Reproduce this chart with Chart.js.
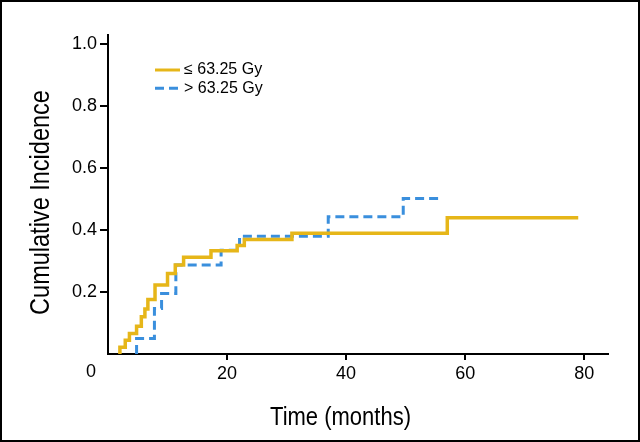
<!DOCTYPE html>
<html>
<head>
<meta charset="utf-8">
<script src="https://cdn.jsdelivr.net/npm/chart.js@4.4.1/dist/chart.umd.min.js"></script>
<style>
  html, body { margin: 0; padding: 0; background: #fff; }
  #wrap { width: 640px; height: 442px; box-sizing: border-box; border: 2px solid #000; position: relative; }
</style>
</head>
<body>
<div id="wrap"><canvas id="kmChart"></canvas></div>
<script>
// cumulative incidence
var lowLabel = "\u2264 63.25 Gy";
var lowMonths = [2.0, 2.0, 2.9, 3.6, 4.8, 5.6, 6.2, 6.7, 7.9, 10.0, 11.3, 12.7, 17.3, 21.7, 22.9, 30.9, 57.0, 79.0];
var lowInc    = [0, 0.022, 0.044, 0.066, 0.09, 0.12, 0.145, 0.176, 0.223, 0.26, 0.287, 0.312, 0.333, 0.35, 0.37, 0.39, 0.44, 0.44];

var highLabel = "> 63.25 Gy";
var highMonths = [4.8, 4.8, 7.8, 9.0, 11.4, 19.0, 22.1, 37.0, 49.6, 56.1];
var highInc    = [0, 0.05, 0.147, 0.195, 0.287, 0.335, 0.38, 0.443, 0.502, 0.502];

var xTicks = [0, 20, 40, 60, 80];
var yTicks = [0.2, 0.4, 0.6, 0.8, 1.0];

var xTitle = "Time (months)";
var yTitle = "Cumulative Incidence";

var plain = '"Liberation Sans", Arial, sans-serif';

function pts(xs, ys) {
  return xs.map(function (x, i) { return { x: x, y: ys[i] }; });
}

// condensed title text: no narrow face installed, so squeeze the normal one
function squeezedText(ctx, txt, x, y, rot, size, sx) {
  ctx.save();
  ctx.translate(x, y);
  ctx.rotate(rot);
  ctx.scale(sx, 1);
  ctx.font = size + 'px ' + plain;
  ctx.fillStyle = '#000';
  ctx.textAlign = 'center';
  ctx.textBaseline = 'middle';
  ctx.fillText(txt, 0, 0);
  ctx.restore();
}

// legend, corner "0" and axis titles drawn by hand so they sit where the original has them
var extras = {
  id: 'extras',
  afterDraw: function (chart) {
    var ctx = chart.ctx;
    var xs = chart.scales.x;
    ctx.save();
    // legend
    var rows = [68, 86.3];
    chart.data.datasets.forEach(function (ds, i) {
      ctx.beginPath();
      ctx.strokeStyle = ds.borderColor;
      ctx.lineWidth = 3;
      ctx.setLineDash(ds.borderDash || []);
      ctx.moveTo(153, rows[i]);
      ctx.lineTo(178, rows[i]);
      ctx.stroke();
      ctx.setLineDash([]);
      ctx.fillStyle = '#000';
      ctx.font = '16px ' + plain;
      ctx.textAlign = 'left';
      ctx.textBaseline = 'middle';
      ctx.fillText(ds.label, 182, rows[i]);
    });
    // shared origin label
    ctx.fillStyle = '#000';
    ctx.font = '18px ' + plain;
    ctx.textAlign = 'center';
    ctx.textBaseline = 'middle';
    ctx.fillText(String(xTicks[0]), xs.getPixelForValue(0) - 17, 370);
    ctx.restore();
    squeezedText(ctx, xTitle, 338.5, 416, 0, 26.5, 0.83);
    squeezedText(ctx, yTitle, 39.5, 200.5, -Math.PI / 2, 28, 0.84);
  }
};

var ctxK = document.getElementById('kmChart').getContext('2d');
var kmChart = new Chart(ctxK, {
  type: 'line',
  data: {
    datasets: [{
      label: lowLabel,
      data: pts(lowMonths, lowInc),
      borderColor: '#E6B619',
      borderWidth: 3.5,
      stepped: 'before',
      pointRadius: 0,
      fill: false
    }, {
      label: highLabel,
      data: pts(highMonths, highInc),
      borderColor: '#3A8FDD',
      borderWidth: 3,
      borderDash: [9, 5],
      stepped: 'before',
      pointRadius: 0,
      fill: false
    }]
  },
  options: {
    responsive: true,
    maintainAspectRatio: false,
    animation: false,
    layout: { padding: { top: 33, right: 30, left: 0, bottom: 0 } },
    plugins: {
      legend: { display: false },
      tooltip: { enabled: false }
    },
    scales: {
      x: {
        type: 'linear',
        min: 0,
        max: 84,
        afterBuildTicks: function (s) {
          s.ticks = xTicks.filter(function (v) { return v > 0; }).map(function (v) { return { value: v }; });
        },
        afterFit: function (s) { s.height = 86; },
        ticks: { color: '#000', font: { size: 18, family: plain }, padding: 3, maxRotation: 0, autoSkip: false },
        grid: { drawOnChartArea: false, tickLength: 6, color: '#000', lineWidth: 2 },
        border: { color: '#000', width: 2 }
      },
      y: {
        min: 0,
        max: 1.03,
        afterBuildTicks: function (s) {
          s.ticks = yTicks.map(function (v) { return { value: v }; });
        },
        afterFit: function (s) { s.width = 106; },
        ticks: {
          color: '#000', font: { size: 18, family: plain }, padding: 3,
          callback: function (v) { return v.toFixed(1); }
        },
        grid: { drawOnChartArea: false, tickLength: 8, color: '#000', lineWidth: 2 },
        border: { color: '#000', width: 2 }
      }
    }
  },
  plugins: [extras]
});
</script>
</body>
</html>
